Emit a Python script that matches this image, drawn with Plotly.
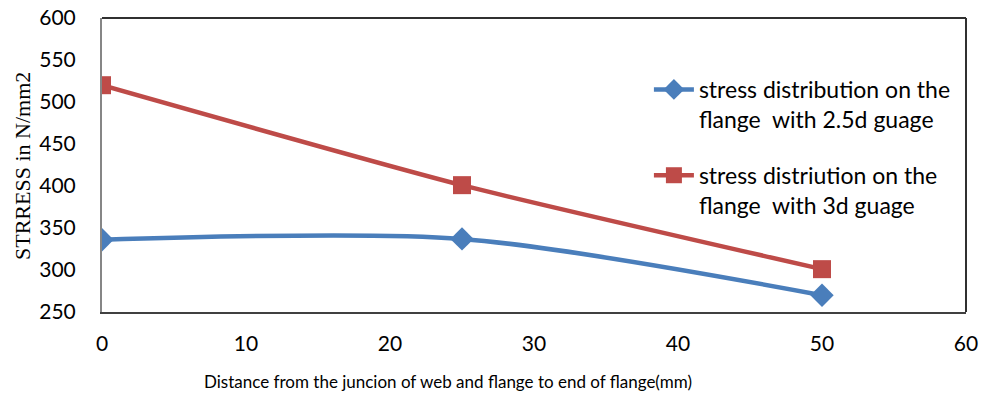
import plotly.graph_objects as go

# Distance along the flange (mm) and measured stresses (N/mm2)
distance_mm = [0, 25, 50]
stress_2_5d = [336, 337, 270]
stress_3d = [520, 401, 301]

series_names = [
    "stress distribution on the<br>flange  with 2.5d guage",
    "stress distriution on the<br>flange  with 3d guage",
]

x_ticks = [0, 10, 20, 30, 40, 50, 60]
y_ticks = [250, 300, 350, 400, 450, 500, 550, 600]

x_title = "Distance from the juncion of web and flange to end of flange(mm)"
y_title = "STRRESS in N/mm2"

BLUE = "#4A7EBB"
RED = "#BE4B48"
SANS = "Lato, 'Open Sans', sans-serif"
TICK_FONT = dict(family=SANS, size=21, color="#000000")

fig = go.Figure()
fig.add_trace(go.Scatter(
    x=distance_mm, y=stress_2_5d, name=series_names[0], legendgroup="a",
    mode="lines+markers",
    line=dict(color=BLUE, width=4.5, shape="spline", smoothing=0.8),
    marker=dict(symbol="diamond", size=18, color=BLUE),
))
fig.add_trace(go.Scatter(
    x=distance_mm, y=stress_3d, name=series_names[1], legendgroup="b",
    mode="lines+markers",
    line=dict(color=RED, width=4.5, shape="spline", smoothing=0.6),
    marker=dict(symbol="square", size=18, color=RED),
))

fig.update_layout(
    width=984, height=396,
    margin=dict(l=102, r=18, t=18, b=84, autoexpand=False),
    paper_bgcolor="white", plot_bgcolor="white",
    showlegend=True,
    legend=dict(
        x=0.633, y=0.83, xanchor="left", yanchor="top",
        bgcolor="rgba(0,0,0,0)", valign="top", tracegroupgap=23,
        font=dict(family=SANS, size=23, color="#000000"),
        itemwidth=40,
    ),
    xaxis=dict(
        range=[0, 60], tickvals=x_ticks, showgrid=False, zeroline=False,
        showline=True, linecolor="#404040", linewidth=2, automargin=False,
        ticks="", ticklabelstandoff=12, tickfont=TICK_FONT,
    ),
    yaxis=dict(
        range=[250, 600], tickvals=y_ticks, showgrid=False, zeroline=False,
        showline=True, linecolor="#868686", linewidth=2, automargin=False,
        ticks="", ticklabelstandoff=20, tickfont=TICK_FONT,
    ),
    shapes=[
        dict(type="line", xref="paper", yref="paper", x0=0, x1=1, y0=1, y1=1,
             line=dict(color="#303030", width=2), layer="above"),
        dict(type="line", xref="paper", yref="paper", x0=1, x1=1, y0=0, y1=1,
             line=dict(color="#303030", width=2), layer="above"),
    ],
    annotations=[
        dict(text=x_title, xref="paper", yref="paper",
             x=(448 - 102) / 864, y=-(381 - 312) / 294,
             xanchor="center", yanchor="middle", showarrow=False,
             font=dict(family=SANS, size=17, color="#000000")),
        dict(text=y_title, xref="paper", yref="paper",
             x=-(102 - 22) / 864, y=(312 - 166) / 294, textangle=-90,
             xanchor="center", yanchor="middle", showarrow=False,
             font=dict(family="'Liberation Serif', 'Times New Roman', serif",
                       size=22, color="#000000")),
    ],
)

fig.write_html("out.html")
